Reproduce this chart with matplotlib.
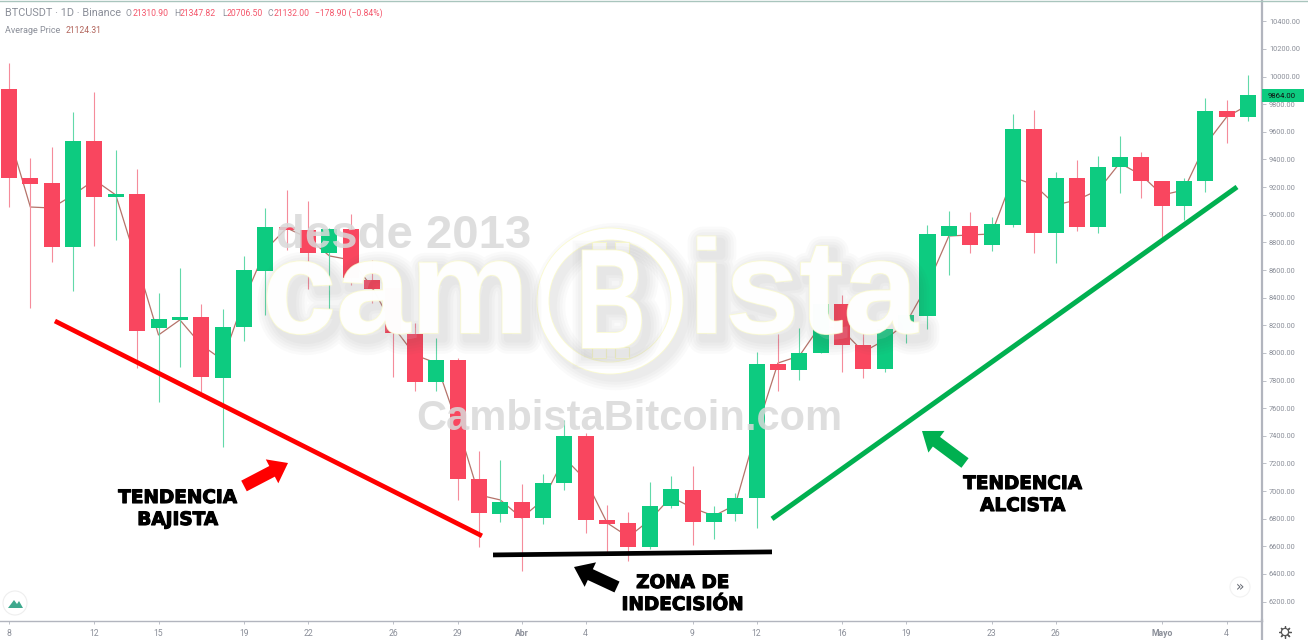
import numpy as np
import matplotlib
matplotlib.use("Agg")
from matplotlib import pyplot as plt
from matplotlib import patheffects as pe
from matplotlib.font_manager import FontProperties
from matplotlib.patches import Circle, FancyArrow, PathPatch, Polygon, Rectangle
from matplotlib.textpath import TextPath
from matplotlib.transforms import Affine2D

# daily candles
opens = [9910, 9266, 9230, 8767, 9534, 9129, 9150, 8181, 8239, 8260, 7819, 8188, 8593, 8911, 8890,
         8723, 8897, 8528, 8470, 8137, 7790, 7949, 7088, 6835, 6922, 6806, 7059, 7399, 6791, 6770,
         6596, 6893, 7009, 6777, 6835, 6951, 7920, 7877, 8000, 8354, 8058, 7884, 8166, 8268, 8846,
         8919, 8781, 8926, 9621, 8868, 9266, 8911, 9346, 9418, 9244, 9063, 9244, 9751, 9707]
highs = [10098, 9411, 9490, 9744, 9888, 9469, 9331, 8434, 8615, 8354, 8318, 8702, 9049, 9179, 9100,
         8904, 9006, 8673, 8470, 8217, 8108, 7964, 7291, 7226, 7052, 7124, 7515, 7421, 6900, 6849,
         7066, 7110, 7182, 6893, 6987, 8007, 8137, 8181, 8354, 8419, 8173, 8239, 8296, 8926, 9027,
         9020, 8984, 9729, 9758, 9309, 9396, 9425, 9570, 9454, 9244, 9266, 9845, 9830, 10011]
lows = [9056, 8325, 8658, 8448, 8774, 8817, 7891, 7645, 7899, 7718, 7320, 8087, 8275, 8745, 8463,
        8275, 8492, 8362, 7826, 7725, 7725, 6936, 6596, 6777, 6422, 6762, 7009, 6697, 6560, 6495,
        6581, 6878, 6611, 6654, 6784, 6733, 7725, 7804, 8000, 7862, 7819, 7862, 8072, 8173, 8564,
        8723, 8738, 8911, 8723, 8651, 8883, 8868, 9158, 9121, 8832, 8962, 9165, 9519, 9679]
closes = [9266, 9223, 8767, 9534, 9129, 9150, 8159, 8246, 8260, 7826, 8188, 8600, 8911, 8890, 8723,
          8897, 8543, 8463, 8145, 7790, 7949, 7088, 6842, 6922, 6806, 7059, 7399, 6791, 6762, 6596,
          6893, 7016, 6777, 6842, 6951, 7920, 7877, 8000, 8354, 8058, 7884, 8173, 8275, 8861, 8919,
          8781, 8933, 9621, 8868, 9266, 8911, 9346, 9418, 9244, 9063, 9244, 9751, 9707, 9864]
avg_price = [9577, 9056, 9049, 9143, 9252, 9143, 8644, 8130, 8239, 8058, 7949, 8383, 8745, 8904, 8832,
             8702, 8673, 8477, 8188, 7985, 7927, 7479, 6972, 6936, 6806, 6936, 7240, 7081, 6770, 6668,
             6791, 6958, 6878, 6820, 6900, 7443, 7927, 7978, 8202, 8166, 8007, 8094, 8217, 8492, 8846,
             8854, 8861, 9273, 9215, 9071, 9107, 9179, 9374, 9288, 9143, 9179, 9505, 9707, 9794]

price_ticks = list(range(6200, 10401, 200))
date_pos = [0, 4, 7, 11, 14, 18, 21, 24, 27, 32, 35, 39, 42, 46, 49, 54, 57]
date_labels = ['8', '12', '15', '19', '22', '26', '29', 'Abr', '4', '9', '12', '16', '19', '23', '26', 'Mayo', '4']
last_price = 9864

# hand drawn trend lines, (candle index, price)
red_line = ([2.15, 22.14], [8231, 6676])
green_line = ([35.72, 57.49], [6799, 9201])
black_line = ([22.66, 35.72], [6538, 6560])

RED = '#f9465f'
GREEN = '#0dcb80'
RED_WICK = '#f58c9b'
GREEN_WICK = '#62d9a9'
AXIS = '#b2b5be'
GREY = '#8b8f99'

W, H = 1308, 640
fig = plt.figure(figsize=(W / 100, H / 100), dpi=100, facecolor='white')
plt.rcParams['font.family'] = ['Roboto', 'DejaVu Sans']

ax = fig.add_axes([0, (H - 620.7) / H, 1262 / W, (620.7 - 1) / H])
ax.set_xlim(-0.421, 58.66)
ax.set_ylim(6062, 10547)
ax.set_facecolor('white')

x = np.arange(len(opens))
o = np.array(opens)
c = np.array(closes)
up = c >= o
colors = [GREEN if u else RED for u in up]
wicks = [GREEN_WICK if u else RED_WICK for u in up]

ax.plot(x, avg_price, color='#b5736a', lw=0.9, zorder=1)
ax.vlines(x, lows, highs, colors=wicks, lw=0.8, zorder=2)
ax.bar(x, np.abs(c - o), bottom=np.minimum(o, c), width=0.75, color=colors, zorder=3)

for sp in ['left', 'top']:
    ax.spines[sp].set_visible(False)
ax.spines['right'].set_color(AXIS)
ax.spines['right'].set_linewidth(1.6)
ax.spines['bottom'].set_color(AXIS)
ax.spines['bottom'].set_linewidth(1.0)

ax.yaxis.tick_right()
ax.set_yticks(price_ticks)
ax.set_yticklabels(['%.2f' % p for p in price_ticks])
ax.tick_params(axis='y', length=3, width=0.6, color=AXIS, labelcolor=GREY, labelsize=5.3, pad=2)
ax.set_xticks(date_pos)
ax.set_xticklabels(date_labels)
ax.tick_params(axis='x', length=2.5, width=0.6, color=AXIS, labelcolor=GREY, labelsize=6.2, pad=3.5)
for lab in ax.get_xticklabels():
    if lab.get_text() in ('Abr', 'Mayo'):
        lab.set_fontweight('bold')

ax.plot(*red_line, color='#ff0000', lw=3.4, solid_capstyle='butt', zorder=8)
ax.plot(*green_line, color='#00b050', lw=3.6, solid_capstyle='butt', zorder=8)
ax.plot(*black_line, color='black', lw=3.4, solid_capstyle='butt', zorder=8)

# overlay in pixels for the watermark, arrows and chart furniture
ov = fig.add_axes([0, 0, 1, 1], zorder=5)
ov.set_xlim(0, W)
ov.set_ylim(H, 0)
ov.axis('off')
ov.patch.set_alpha(0)

shadow = [pe.Stroke(linewidth=w, foreground='#555555', alpha=0.028, offset=(4, -4)) for w in (22, 18, 14, 10, 6)]
outline = [pe.Stroke(linewidth=1.2, foreground='#fbfbd0'), pe.Normal()]
wm = shadow + outline

ov.text(276, 248, 'desde 2013', family='Liberation Sans', fontweight='bold', fontsize=34,
        color='#d9d9d9', alpha=0.85)
ov.text(416, 430, 'CambistaBitcoin.com', family='Liberation Sans', fontweight='bold', fontsize=30,
        color='#d9d9d9', alpha=0.85)
ov.text(262, 333, 'cam', family='Liberation Sans', fontweight='bold', fontsize=96, color='white',
        alpha=0.88, path_effects=wm)
ov.text(688, 333, 'ista', family='Liberation Sans', fontweight='bold', fontsize=96, color='white',
        alpha=0.88, path_effects=wm)
ring = Circle((610, 301), 67, fill=False, ec='white', lw=8)
ring.set_path_effects([pe.Stroke(linewidth=w + 8, foreground='#555555', alpha=0.028, offset=(4, -4)) for w in (16, 12, 8, 4)]
                      + [pe.Stroke(linewidth=9.2, foreground='#fbfbd0'), pe.Normal()])
ov.add_patch(ring)
for px in (592, 615):
    for py in (242, 347):
        r = Rectangle((px, py), 14, 11, fc='white', ec='#fbfbd0', lw=0.8)
        ov.add_patch(r)

# the B of the logo is narrower than the font, so squeeze its outline
b_path = TextPath((0, 0), 'B', size=142, prop=FontProperties(family='Liberation Sans', weight='bold'))
b_shape = PathPatch(b_path, fc='white', ec='none',
                    transform=Affine2D().scale(0.68, -1).translate(576, 348) + ov.transData)
b_shape.set_path_effects(wm)
ov.add_patch(b_shape)

# arrows
for (x0, y0, x1, y1, col) in [(244, 486, 288, 463, '#ff0000'),
                              (617, 587, 574, 567, 'black'),
                              (965, 463, 922, 431, '#00b050')]:
    ov.add_patch(FancyArrow(x0, y0, x1 - x0, y1 - y0, width=12, head_width=27, head_length=18,
                            length_includes_head=True, fc=col, ec=col, lw=0))

# labels
note = dict(family='DejaVu Sans', fontweight='bold', fontsize=13.3, color='black', ha='center',
            path_effects=[pe.withStroke(linewidth=0.8, foreground='black')])
ov.text(178, 503, 'TENDENCIA', **note)
ov.text(178, 525, 'BAJISTA', **note)
ov.text(683, 588, 'ZONA DE', **note)
ov.text(683, 610, 'INDECISIÓN', **note)
ov.text(1023, 489, 'TENDENCIA', **note)
ov.text(1023, 511, 'ALCISTA', **note)

# header
ov.text(5, 16, 'BTCUSDT · 1D · Binance', fontsize=7.8, color=GREY)
for lx, vx, name, val in [(126, 133, 'O', '21310.90'), (174, 180, 'H', '21347.82'),
                          (222, 227, 'L', '20706.50'), (268, 274, 'C', '21132.00')]:
    ov.text(lx, 16, name, fontsize=6.2, color=GREY)
    ov.text(vx, 16, val, fontsize=6.2, color='#f4566b')
ov.text(315, 16, '−178.90 (−0.84%)', fontsize=6.2, color='#f4566b')
ov.text(5, 33, 'Average Price', fontsize=6.5, color=GREY)
ov.text(66, 33, '21124.31', fontsize=6.2, color='#b2655c')

# top edge and axis stub under the price scale
ov.plot([0, W], [0.5, 0.5], color='#a9c5bd', lw=1)
ov.plot([1262, 1262], [620, 640], color=AXIS, lw=1.6)

# last price tag
ov.add_patch(Rectangle((1262, 89), 42, 13, fc=GREEN, ec='none'))
ov.text(1268, 98.5, '%.2f' % last_price, fontsize=5.6, color='#111111')

# small round buttons
ov.add_patch(Circle((15, 603), 12, fc='white', ec='#eeeeee', lw=0.8))
ov.add_patch(Polygon([(8, 608), (14, 600), (17, 604), (19, 601), (23, 608)], fc='#3fa98e', ec='none'))
ov.add_patch(Circle((1240, 587), 10, fc='white', ec='#f2f2f2', lw=0.8))
ov.text(1240, 591, '»', family='DejaVu Sans', fontsize=10, color='#666a73', ha='center')
ov.plot([1285], [632], marker=(8, 2, 0), ms=9, color='#555555', mew=0.9)
ov.add_patch(Circle((1285, 632), 3.6, fc='white', ec='#555555', lw=0.9, zorder=5))

fig.savefig('out.png', dpi=100)
